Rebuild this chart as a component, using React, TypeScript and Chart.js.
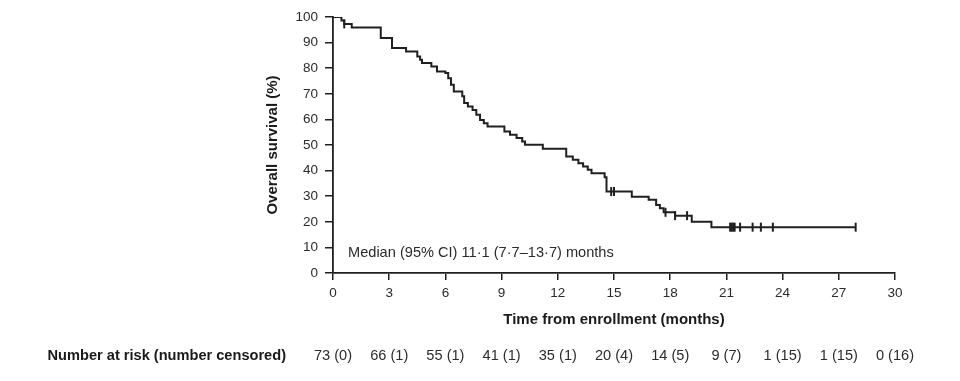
import React, { useEffect, useRef } from "react";
import { Chart, registerables } from "chart.js";

Chart.register(...registerables);

const kmTimes = [0, 0.45, 0.6, 1.0, 2.55, 3.15, 3.9, 4.5, 4.65, 4.75, 5.25, 5.55, 6.0, 6.15, 6.3, 6.45, 6.9, 7.0, 7.2, 7.45, 7.65, 7.85, 8.05, 8.25, 9.15, 9.45, 9.8, 10.1, 10.25, 11.2, 12.45, 12.8, 13.1, 13.35, 13.6, 13.8, 14.5, 14.6, 15.95, 16.85, 17.25, 17.45, 17.65, 18.26, 19.15, 20.2, 27.9];
const kmSurvival = [100, 98.6, 97.3, 95.9, 91.8, 87.9, 86.5, 84.6, 83.3, 82.0, 80.7, 78.7, 78.1, 76.1, 73.5, 70.9, 69.0, 66.4, 65.0, 63.7, 61.8, 59.8, 58.5, 57.2, 55.3, 54.0, 52.7, 51.4, 50.1, 48.5, 45.5, 44.2, 42.9, 41.6, 40.3, 39.0, 37.4, 31.8, 29.8, 28.6, 26.6, 25.3, 23.7, 22.4, 20.0, 17.9, 17.9];

const censorTimes = [0.6, 14.85, 15.0, 17.75, 18.26, 18.9, 21.2, 21.28, 21.36, 21.44, 21.73, 22.4, 22.84, 23.48, 27.9];
const censorSurvival = [97.3, 31.8, 31.8, 23.7, 22.4, 22.4, 17.9, 17.9, 17.9, 17.9, 17.9, 17.9, 17.9, 17.9, 17.9];

const xTicks = [0, 3, 6, 9, 12, 15, 18, 21, 24, 27, 30];
const atRisk = [73, 66, 55, 41, 35, 20, 14, 9, 1, 1, 0];
const censoredCounts = [0, 1, 1, 1, 1, 4, 5, 7, 15, 15, 16];

const medianText = "Median (95% CI) 11·1 (7·7–13·7) months";
const atRiskTitle = "Number at risk (number censored)";

const FONT = "'Liberation Sans', Arial, Helvetica, sans-serif";
const INK = "#231f20";
const TEXT = "#2b2b2b";

const extraText = {
  id: "extraText",
  afterDraw(chart: any) {
    const { ctx, scales } = chart;
    const xs = scales.x;
    const ys = scales.y;
    ctx.save();
    ctx.fillStyle = TEXT;
    ctx.font = `14.6px ${FONT}`;
    ctx.textBaseline = "middle";
    ctx.textAlign = "left";
    ctx.fillText(medianText, xs.getPixelForValue(0.8), ys.getPixelForValue(7.8));

    const rowY = 356;
    ctx.textAlign = "center";
    xTicks.forEach((t, i) => {
      ctx.fillText(`${atRisk[i]} (${censoredCounts[i]})`, xs.getPixelForValue(t), rowY);
    });
    ctx.font = `bold 14.6px ${FONT}`;
    ctx.fillStyle = "#1a1a1a";
    ctx.textAlign = "right";
    ctx.fillText(atRiskTitle, 286, rowY);
    ctx.restore();
  },
};

export default function App() {
  const ref = useRef<HTMLCanvasElement | null>(null);

  useEffect(() => {
    document.body.style.margin = "0";
    if (!ref.current) return;
    const chart = new Chart(ref.current, {
      type: "line",
      data: {
        datasets: [
          {
            type: "line",
            data: kmTimes.map((t, i) => ({ x: t, y: kmSurvival[i] })),
            stepped: "before",
            borderColor: INK,
            borderWidth: 2,
            pointRadius: 0,
            fill: false,
          },
          {
            type: "scatter",
            data: censorTimes.map((t, i) => ({ x: t, y: censorSurvival[i] })),
            pointStyle: "line",
            rotation: 90,
            pointRadius: 4.5,
            borderColor: INK,
            borderWidth: 2,
            backgroundColor: INK,
          } as any,
        ],
      },
      options: {
        animation: false,
        responsive: true,
        maintainAspectRatio: false,
        layout: { padding: { left: 264, right: 65, top: 17, bottom: 52 } },
        plugins: { legend: { display: false }, tooltip: { enabled: false } },
        scales: {
          x: {
            type: "linear",
            min: 0,
            max: 30,
            afterFit: (s: any) => {
              s.height = 56;
            },
            afterBuildTicks: (s: any) => {
              s.ticks = xTicks.map((v) => ({ value: v }));
            },
            ticks: {
              color: TEXT,
              font: { family: FONT, size: 13.5 },
              padding: 5,
              maxRotation: 0,
              autoSkip: false,
            },
            grid: { drawOnChartArea: false, tickLength: 7, color: INK, lineWidth: 1.5 },
            border: { display: true, color: INK, width: 1.8 },
            title: {
              display: true,
              text: "Time from enrollment (months)",
              color: "#1a1a1a",
              font: { family: FONT, size: 15, weight: "bold" },
              padding: 0,
            },
          },
          y: {
            type: "linear",
            min: 0,
            max: 100,
            afterFit: (s: any) => {
              s.width = 69;
            },
            ticks: {
              stepSize: 10,
              color: TEXT,
              font: { family: FONT, size: 13.5 },
              padding: 7,
            },
            grid: { drawOnChartArea: false, tickLength: 8, color: INK, lineWidth: 1.5 },
            border: { display: true, color: INK, width: 1.8 },
            title: {
              display: true,
              text: "Overall survival (%)",
              color: "#1a1a1a",
              font: { family: FONT, size: 15, weight: "bold" },
              padding: 0,
            },
          },
        },
      },
      plugins: [extraText],
    });
    return () => chart.destroy();
  }, []);

  return (
    <div style={{ width: 960, height: 381, position: "relative" }}>
      <canvas ref={ref} />
    </div>
  );
}
